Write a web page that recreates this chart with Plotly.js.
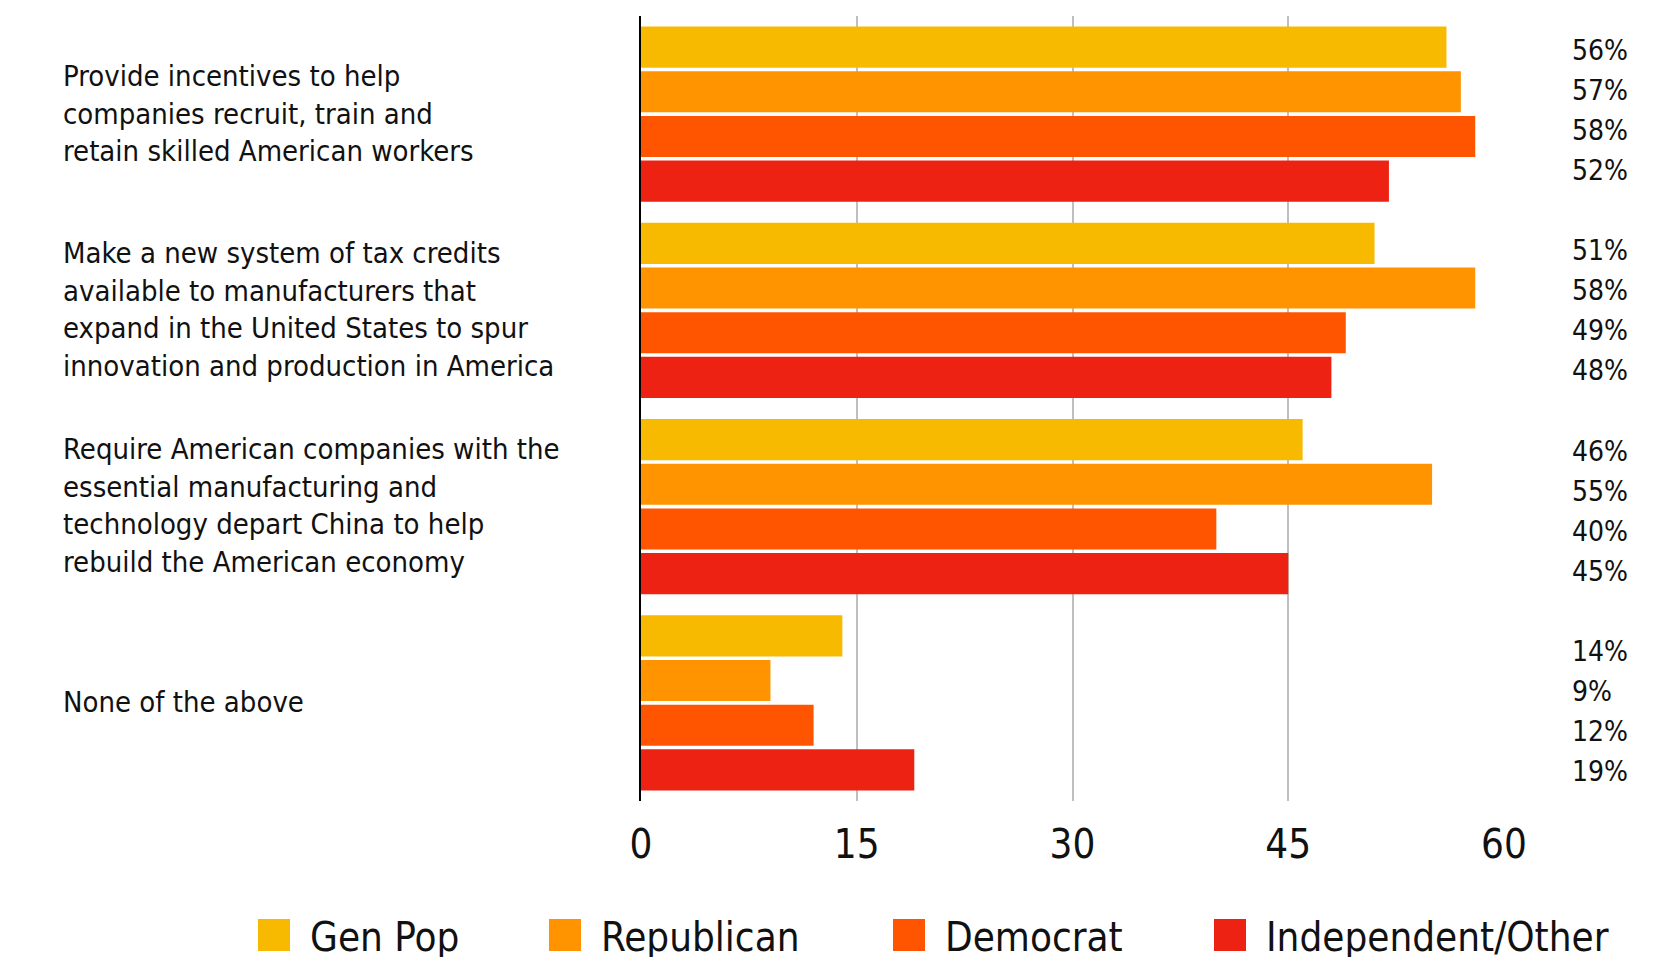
<!DOCTYPE html>
<html>
<head>
<meta charset="utf-8">
<script src="https://cdn.plot.ly/plotly-3.0.1.min.js"></script>
<style>
  html, body { margin: 0; padding: 0; background: #ffffff; }
  #chart { width: 1675px; height: 957px; }
</style>
</head>
<body>
<div id="chart"></div>
<script>
// ---- data ----
const categories = [
  "Provide incentives to help<br>companies recruit, train and<br>retain skilled American workers",
  "Make a new system of tax credits<br>available to manufacturers that<br>expand in the United States to spur<br>innovation and production in America",
  "Require American companies with the<br>essential manufacturing and<br>technology depart China to help<br>rebuild the American economy",
  "None of the above"
];
const seriesNames = ["Gen Pop", "Republican", "Democrat", "Independent/Other"];
const genPop      = [56, 51, 46, 14];
const republican  = [57, 58, 55, 9];
const democrat    = [58, 49, 40, 12];
const independent = [52, 48, 45, 19];
const xTickVals   = [0, 15, 30, 45, 60];

// ---- styles ----
const FONT = "'Liberation Sans Narrow', 'DejaVu Sans Condensed', Roboto, sans-serif";
const colors = ["#F7BA00", "#FF9400", "#FF5400", "#EE2212"];
const seriesValues = [genPop, republican, democrat, independent];
const legendKeys = ["legend", "legend2", "legend3", "legend4"];
const legendTextStartPx = [310, 601, 945, 1266];
const LEGEND_ITEMWIDTH = 60;

const traces = seriesValues.map((vals, i) => ({
  type: "bar",
  orientation: "h",
  name: seriesNames[i],
  x: vals,
  y: categories.map((_, k) => k),
  marker: { color: colors[i] },
  legend: legendKeys[i],
  hoverinfo: "x+name"
}));

const annotations = [];
// category labels (left)
categories.forEach((c, k) => {
  annotations.push({
    xref: "paper", yref: "y", x: -0.6721, y: k,
    xanchor: "left", yanchor: "middle", align: "left",
    yshift: 1,
    text: c, showarrow: false,
    font: { family: FONT, size: 29, color: "#111111" }
  });
});
// percentage labels (right)
categories.forEach((c, k) => {
  seriesValues.forEach((vals, i) => {
    annotations.push({
      xref: "paper", yref: "y", x: 1.0765, y: k,
      xanchor: "left", yanchor: "middle",
      yshift: -((i - 1.5) * 40 + (-3.5 + 4 * k)),
      text: vals[k] + "%", showarrow: false,
      font: { family: FONT, size: 28, color: "#111111" }
    });
  });
});

const layout = {
  width: 1675, height: 957,
  margin: { l: 641, r: 171, t: 16, b: 156, autoexpand: false },
  paper_bgcolor: "#ffffff", plot_bgcolor: "#ffffff",
  font: { family: FONT, color: "#111111" },
  barmode: "group",
  bargap: 0.09,
  bargroupgap: 0.08,
  xaxis: {
    range: [0, 60],
    tickvals: xTickVals,
    ticktext: xTickVals.map(String),
    showgrid: true, gridcolor: "#bfbfbf", gridwidth: 2,
    zeroline: false, showline: false, ticks: "",
    tickfont: { family: FONT, size: 40, color: "#111111" },
    ticklabelstandoff: 16,
    fixedrange: true
  },
  yaxis: {
    range: [3.5, -0.5],
    showticklabels: false, showgrid: false, zeroline: false,
    showline: true, linecolor: "#000000", linewidth: 2,
    ticks: "", fixedrange: true
  },
  annotations: annotations,
  showlegend: true
};
legendKeys.forEach((key, i) => {
  layout[key] = {
    orientation: "h",
    xref: "container", yref: "container",
    x: (legendTextStartPx[i] - LEGEND_ITEMWIDTH - 10) / 1675, xanchor: "left",
    y: 1 - 935 / 957, yanchor: "middle",
    font: { family: FONT, size: 40, color: "#111111" },
    itemwidth: LEGEND_ITEMWIDTH,
    bgcolor: "rgba(0,0,0,0)",
    borderwidth: 0
  };
});

function enlargeSwatches(gd) {
  gd.querySelectorAll("g.legendpoints path").forEach(path => {
    if (path.dataset.big) return;
    const tr = path.closest("g.traces");
    const text = tr ? tr.querySelector("text.legendtext") : null;
    const tx = text ? (parseFloat(text.getAttribute("x")) || LEGEND_ITEMWIDTH + 10) : LEGEND_ITEMWIDTH + 10;
    const tf = path.getAttribute("transform") || "";
    const m = tf.match(/translate\(([-\d.]+)/);
    const cx = m ? parseFloat(m[1]) : 0;
    const right = tx - 20 - cx;
    const left = right - 32;
    path.setAttribute("d", `M${right},16H${left}V-16H${right}Z`);
    path.dataset.big = "1";
  });
}

Plotly.newPlot("chart", traces, layout, { displayModeBar: false, staticPlot: true }).then(gd => {
  enlargeSwatches(gd);
  gd.on && gd.on("plotly_afterplot", () => enlargeSwatches(gd));
  setTimeout(() => enlargeSwatches(gd), 50);
});
</script>
</body>
</html>
